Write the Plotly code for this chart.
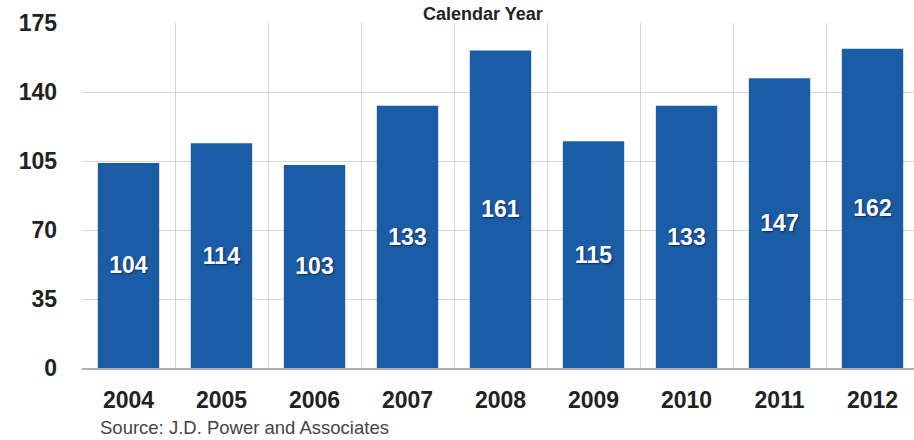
import plotly.graph_objects as go

years = ["2004", "2005", "2006", "2007", "2008", "2009", "2010", "2011", "2012"]
values = [104, 114, 103, 133, 161, 115, 133, 147, 162]
y_ticks = [0, 35, 70, 105, 140, 175]

W, H = 914, 440
ML, MR, MT, MB = 82, 0, 23, 72

fig = go.Figure(go.Bar(
    x=years, y=values,
    marker=dict(color="#1b5ca7", line=dict(width=0)),
    width=0.66,
    text=[str(v) for v in values],
    textposition="inside",
    insidetextanchor="middle",
    textangle=0,
    textfont=dict(family="Liberation Sans, Arial, sans-serif", size=23, color="white",
                  weight="bold", shadow="1px 1px 2px #0a2a55"),
    hoverinfo="skip",
))

fig.update_layout(
    width=W, height=H,
    margin=dict(l=ML, r=MR, t=MT, b=MB, pad=0),
    paper_bgcolor="white", plot_bgcolor="white",
    showlegend=False,
    bargap=0.34,
    font=dict(family="Liberation Sans, Arial, sans-serif", color="#222"),
)
fig.update_xaxes(
    type="category", range=[-0.5, 8.446],
    tickson="boundaries", showgrid=True, gridcolor="#d6d6d6", gridwidth=1,
    ticks="", showline=True, linecolor="#b0b0b0", linewidth=2,
    tickfont=dict(size=23, color="#222", weight="bold"),
    ticklabelstandoff=10,
    zeroline=False,
)
fig.update_yaxes(
    range=[0, 175], tickvals=y_ticks, ticktext=[str(t) for t in y_ticks],
    showgrid=True, gridcolor="#d6d6d6", gridwidth=1,
    ticks="", showline=False, zeroline=False,
    tickfont=dict(size=23, color="#222", weight="bold"),
    ticklabelstandoff=24,
)
fig.add_annotation(
    text="Calendar Year", xref="paper", yref="paper",
    x=(483 - ML) / (W - ML - MR), y=1 + (MT - 2) / (H - MT - MB),
    xanchor="center", yanchor="top", showarrow=False,
    font=dict(size=18, color="#222", weight="bold"),
)
fig.add_annotation(
    text="Source: J.D. Power and Associates", xref="paper", yref="paper",
    x=(98 - ML) / (W - ML - MR), y=-(428 - (H - MB)) / (H - MT - MB),
    xanchor="left", yanchor="middle", showarrow=False,
    font=dict(size=18.5, color="#444"),
)

fig.write_html("out.html")
